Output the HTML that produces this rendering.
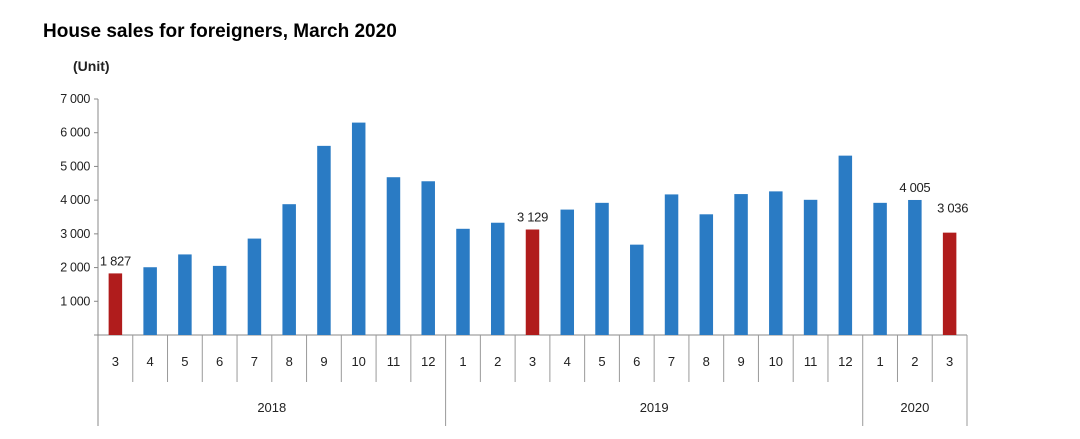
<!DOCTYPE html>
<html><head><meta charset="utf-8"><style>
body{margin:0;background:#fff;font-family:"Liberation Sans",Arial,sans-serif;}
#wrap{position:relative;width:1080px;height:439px;overflow:hidden;}
.title{position:absolute;left:43px;top:21px;font-size:19px;font-weight:bold;color:#000;}
.unit{position:absolute;left:73px;top:58px;font-size:14px;color:#222;font-weight:bold;}
</style></head><body>
<div id="wrap">
<div class="title">House sales for foreigners, March 2020</div>
<div class="unit">(Unit)</div>
<svg id="chart" width="1080" height="439" style="position:absolute;left:0;top:0"></svg>
</div>
<script>
const months=["3","4","5","6","7","8","9","10","11","12","1","2","3","4","5","6","7","8","9","10","11","12","1","2","3"];
const values=[1827,2010,2390,2050,2860,3880,5610,6300,4680,4560,3150,3330,3129,3720,3920,2680,4170,3580,4180,4260,4010,5320,3920,4005,3036];
const highlighted=[0,12,24];
const labelled=[0,12,23,24];
const labelTexts=["1 827","3 129","4 005","3 036"];
const years=["2018","2019","2020"];
const yearStarts=[0,10,22];
const yearEnds=[10,22,25];
const yTicks=[1000,2000,3000,4000,5000,6000,7000];
const yTickLabels=["1 000","2 000","3 000","4 000","5 000","6 000","7 000"];

const svg=document.getElementById('chart');
const NS='http://www.w3.org/2000/svg';
const x0=98,x1=967,y0=335,yTop=99,yMax=7000;
const cw=(x1-x0)/months.length;
const xPos=i=>x0+cw*i;
const yPos=v=>y0-(v/yMax)*(y0-yTop);
function mk(tag,attrs){const e=document.createElementNS(NS,tag);for(const k in attrs)e.setAttribute(k,attrs[k]);svg.appendChild(e);return e;}

const ax=mk('line',{x1:x0,y1:yTop,x2:x0,y2:426,stroke:'#888','stroke-width':1});


yTicks.forEach((t,i)=>{
  const y=yPos(t);
  const tk=mk('line',{x1:x0-4,y1:y,x2:x0,y2:y,stroke:'#888'});
  
  
  const tx=mk('text',{x:x0-8,y:y+4,'text-anchor':'end','font-size':12.5,fill:'#222','letter-spacing':'-0.3'});
  tx.textContent=yTickLabels[i];
  
  
});
const bl=mk('line',{x1:x0-4,y1:y0,x2:x1,y2:y0,stroke:'#888'});



values.forEach((v,i)=>{
  const cx=xPos(i)+cw/2, bw=13.5;
  const r=mk('rect',{x:cx-bw/2,y:yPos(v),width:bw,height:y0-yPos(v),fill:highlighted.includes(i)?'#b01c1c':'#2a7bc4'});
  
  
  const li=labelled.indexOf(i);
  if(li>=0){
    const t=mk('text',{x:cx+(i===24?3:0),y:yPos(v)-(i===24?20:8),'text-anchor':'middle','font-size':13,fill:'#222','letter-spacing':'-0.3'});
    t.textContent=labelTexts[li];
    
    
  }
  const m=mk('text',{x:cx,y:366,'text-anchor':'middle','font-size':13,fill:'#222'});
  m.textContent=months[i];
  
  
  const sp=mk('line',{x1:xPos(i+1),y1:y0,x2:xPos(i+1),y2:yearStarts.includes(i+1)||i===months.length-1?426:382,stroke:'#999'});
  
  
});
years.forEach((y,i)=>{
  const t=mk('text',{x:(xPos(yearStarts[i])+xPos(yearEnds[i]))/2,y:412,'text-anchor':'middle','font-size':13,fill:'#222'});
  t.textContent=y;
  
  
});
</script>
</body></html>
